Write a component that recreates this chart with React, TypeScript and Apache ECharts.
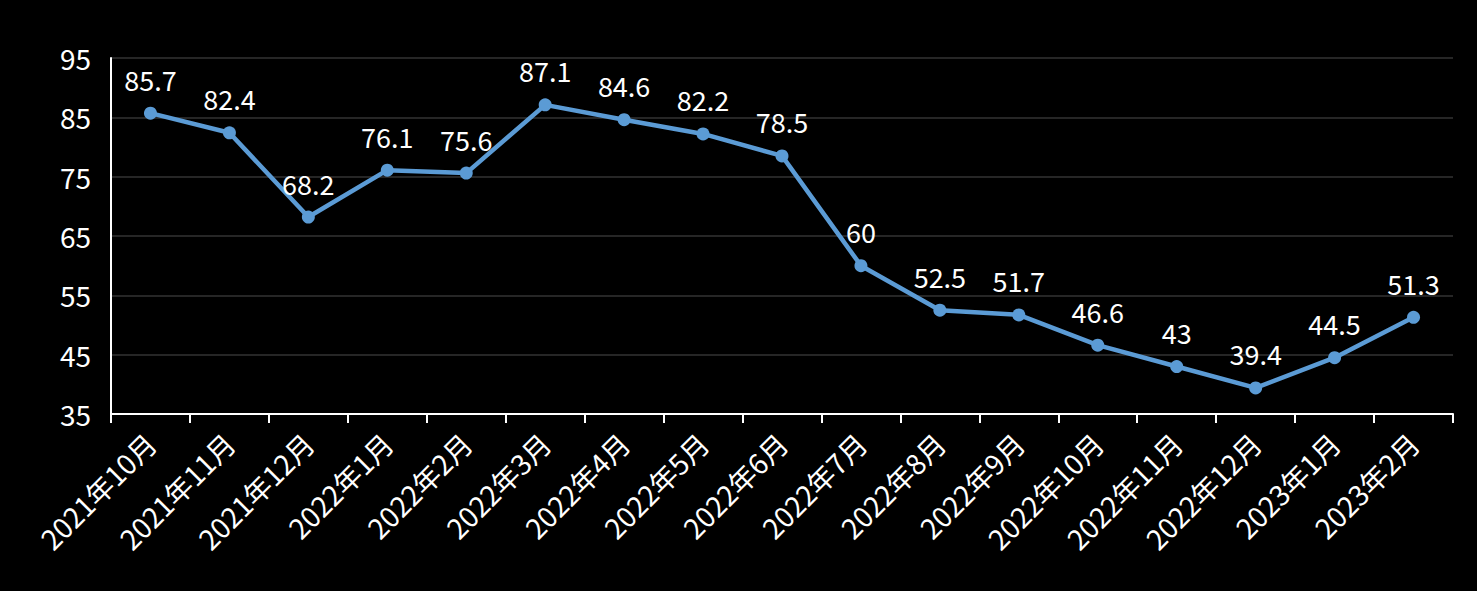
import React, { useEffect, useRef } from "react";
import * as echarts from "echarts";

const categories = [
  "2021年10月", "2021年11月", "2021年12月", "2022年1月", "2022年2月", "2022年3月",
  "2022年4月", "2022年5月", "2022年6月", "2022年7月", "2022年8月", "2022年9月",
  "2022年10月", "2022年11月", "2022年12月", "2023年1月", "2023年2月",
];
const values = [85.7, 82.4, 68.2, 76.1, 75.6, 87.1, 84.6, 82.2, 78.5, 60, 52.5, 51.7, 46.6, 43, 39.4, 44.5, 51.3];

const FONT = "'Noto Sans CJK SC', 'Noto Sans', sans-serif";

export default function App() {
  const ref = useRef<HTMLDivElement>(null);
  useEffect(() => {
    if (!ref.current) return;
    const chart = echarts.init(ref.current, null, { renderer: "svg" });
    chart.setOption({
      animation: false,
      backgroundColor: "#000000",
      grid: { left: 111, right: 24, top: 58, bottom: 177 },
      xAxis: {
        type: "category",
        data: categories,
        boundaryGap: true,
        axisLine: { lineStyle: { color: "#ffffff", width: 2 } },
        axisTick: { show: true, length: 9, lineStyle: { color: "#ffffff", width: 2 } },
        axisLabel: {
          rotate: 45,
          color: "#ffffff",
          fontSize: 28,
          fontFamily: FONT,
          margin: 24,
          interval: 0,
        },
      },
      yAxis: {
        type: "value",
        min: 35,
        max: 95,
        interval: 10,
        axisLine: { show: true, lineStyle: { color: "#ffffff", width: 2 } },
        axisTick: { show: false },
        axisLabel: { color: "#ffffff", fontSize: 28, fontFamily: FONT, margin: 20 },
        splitLine: { lineStyle: { color: "#262626", width: 2 } },
      },
      series: [
        {
          type: "line",
          data: values,
          symbol: "circle",
          symbolSize: 13,
          lineStyle: { color: "#5b9bd5", width: 4.5 },
          itemStyle: { color: "#5b9bd5" },
          label: {
            show: true,
            position: "top",
            distance: 14,
            color: "#ffffff",
            fontSize: 27,
            fontFamily: FONT,
          },
        },
      ],
    });
    return () => chart.dispose();
  }, []);
  return <div ref={ref} style={{ width: 1477, height: 591, position: "absolute", left: 0, top: 0 }} />;
}
